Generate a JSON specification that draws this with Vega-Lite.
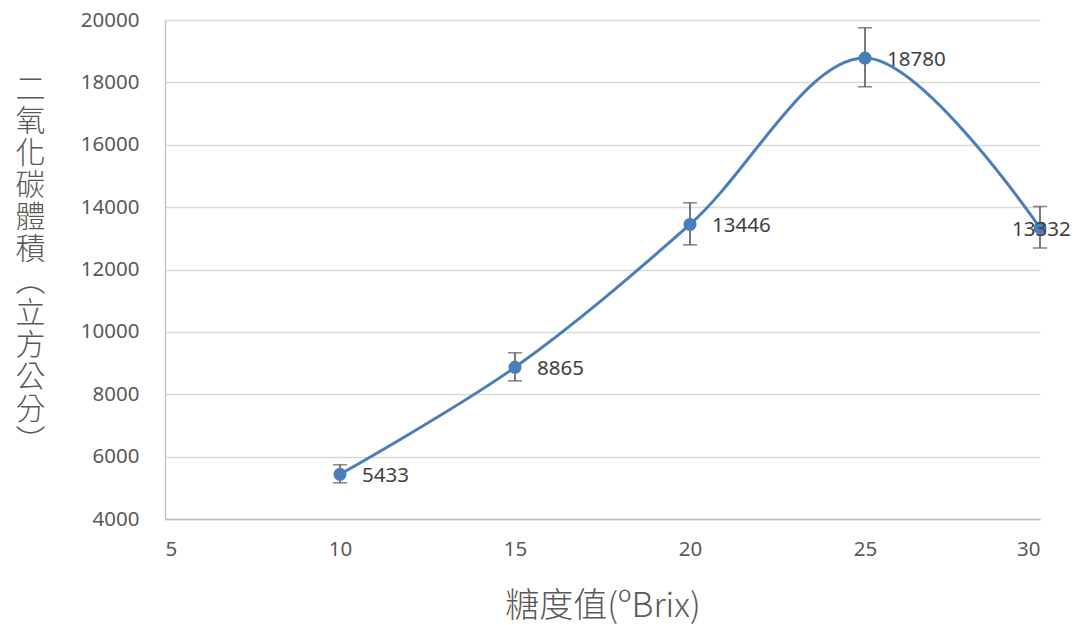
{
  "$schema": "https://vega.github.io/schema/vega-lite/v6.json",
  "width": 875,
  "height": 499,
  "autosize": {"type": "none"},
  "padding": {"left": 165, "top": 20, "right": 34, "bottom": 106},
  "background": "white",
  "config": {
    "view": {"stroke": null},
    "font": "Noto Sans",
    "axis": {
      "labelFont": "Noto Sans",
      "labelFontSize": 20.5,
      "labelColor": "#595959",
      "titleFont": "Noto Sans CJK TC",
      "titleFontWeight": 300,
      "titleColor": "#595959",
      "domainColor": "#bfbfbf",
      "gridColor": "#d9d9d9",
      "gridWidth": 1.3,
      "ticks": false
    }
  },
  "data": {
    "values": [
      {"brix": 10, "volume": 5433, "low": 5160, "high": 5740},
      {"brix": 15, "volume": 8865, "low": 8430, "high": 9330},
      {"brix": 20, "volume": 13446, "low": 12790, "high": 14140},
      {"brix": 25, "volume": 18780, "low": 17860, "high": 19750},
      {"brix": 30, "volume": 13332, "low": 12690, "high": 14020}
    ]
  },
  "layer": [
    {
      "mark": {"type": "rule", "color": "#595959", "strokeWidth": 1.6},
      "encoding": {
        "x": {
          "field": "brix",
          "type": "quantitative",
          "scale": {"domain": [5, 30], "nice": false, "zero": false},
          "axis": {
            "values": [5, 10, 15, 20, 25, 30],
            "grid": false,
            "domainWidth": 1.3,
            "labelPadding": 20,
            "title": "糖度值(ºBrix)",
            "titleFontSize": 34,
            "titleBaseline": "middle",
            "titleY": 87
          }
        },
        "y": {
          "field": "low",
          "type": "quantitative",
          "scale": {"domain": [4000, 20000], "nice": false, "zero": false},
          "axis": {
            "values": [4000, 6000, 8000, 10000, 12000, 14000, 16000, 18000, 20000],
            "format": "d",
            "domainWidth": 1.3,
            "labelPadding": 26,
            "title": ["二", "氧", "化", "碳", "體", "積", "︵", "立", "方", "公", "分", "︶"],
            "titleFontSize": 30,
            "titleLineHeight": 32,
            "titleAngle": 0,
            "titleAlign": "center",
            "titleBaseline": "top",
            "titleX": -135,
            "titleY": 54
          }
        },
        "y2": {"field": "high"}
      }
    },
    {
      "mark": {"type": "tick", "color": "#595959", "thickness": 1.6, "size": 14, "orient": "horizontal"},
      "encoding": {
        "x": {"field": "brix", "type": "quantitative"},
        "y": {"field": "low", "type": "quantitative"}
      }
    },
    {
      "mark": {"type": "tick", "color": "#595959", "thickness": 1.6, "size": 14, "orient": "horizontal"},
      "encoding": {
        "x": {"field": "brix", "type": "quantitative"},
        "y": {"field": "high", "type": "quantitative"}
      }
    },
    {
      "mark": {"type": "line", "interpolate": "catmull-rom", "color": "#4a7ebb", "strokeWidth": 3},
      "encoding": {
        "x": {"field": "brix", "type": "quantitative"},
        "y": {"field": "volume", "type": "quantitative"}
      }
    },
    {
      "mark": {"type": "point", "filled": true, "opacity": 1, "color": "#4a7ebb", "size": 170},
      "encoding": {
        "x": {"field": "brix", "type": "quantitative"},
        "y": {"field": "volume", "type": "quantitative"}
      }
    },
    {
      "transform": [{"filter": "datum.brix < 30"}],
      "mark": {"type": "text", "align": "left", "baseline": "middle", "dx": 22, "dy": 2, "fontSize": 20.5, "font": "Noto Sans", "color": "#404040"},
      "encoding": {
        "x": {"field": "brix", "type": "quantitative"},
        "y": {"field": "volume", "type": "quantitative"},
        "text": {"field": "volume", "type": "quantitative", "format": "d"}
      }
    },
    {
      "transform": [{"filter": "datum.brix == 30"}],
      "mark": {"type": "text", "align": "left", "baseline": "middle", "dx": -28, "dy": 2, "fontSize": 20.5, "font": "Noto Sans", "color": "#404040"},
      "encoding": {
        "x": {"field": "brix", "type": "quantitative"},
        "y": {"field": "volume", "type": "quantitative"},
        "text": {"field": "volume", "type": "quantitative", "format": "d"}
      }
    }
  ]
}
